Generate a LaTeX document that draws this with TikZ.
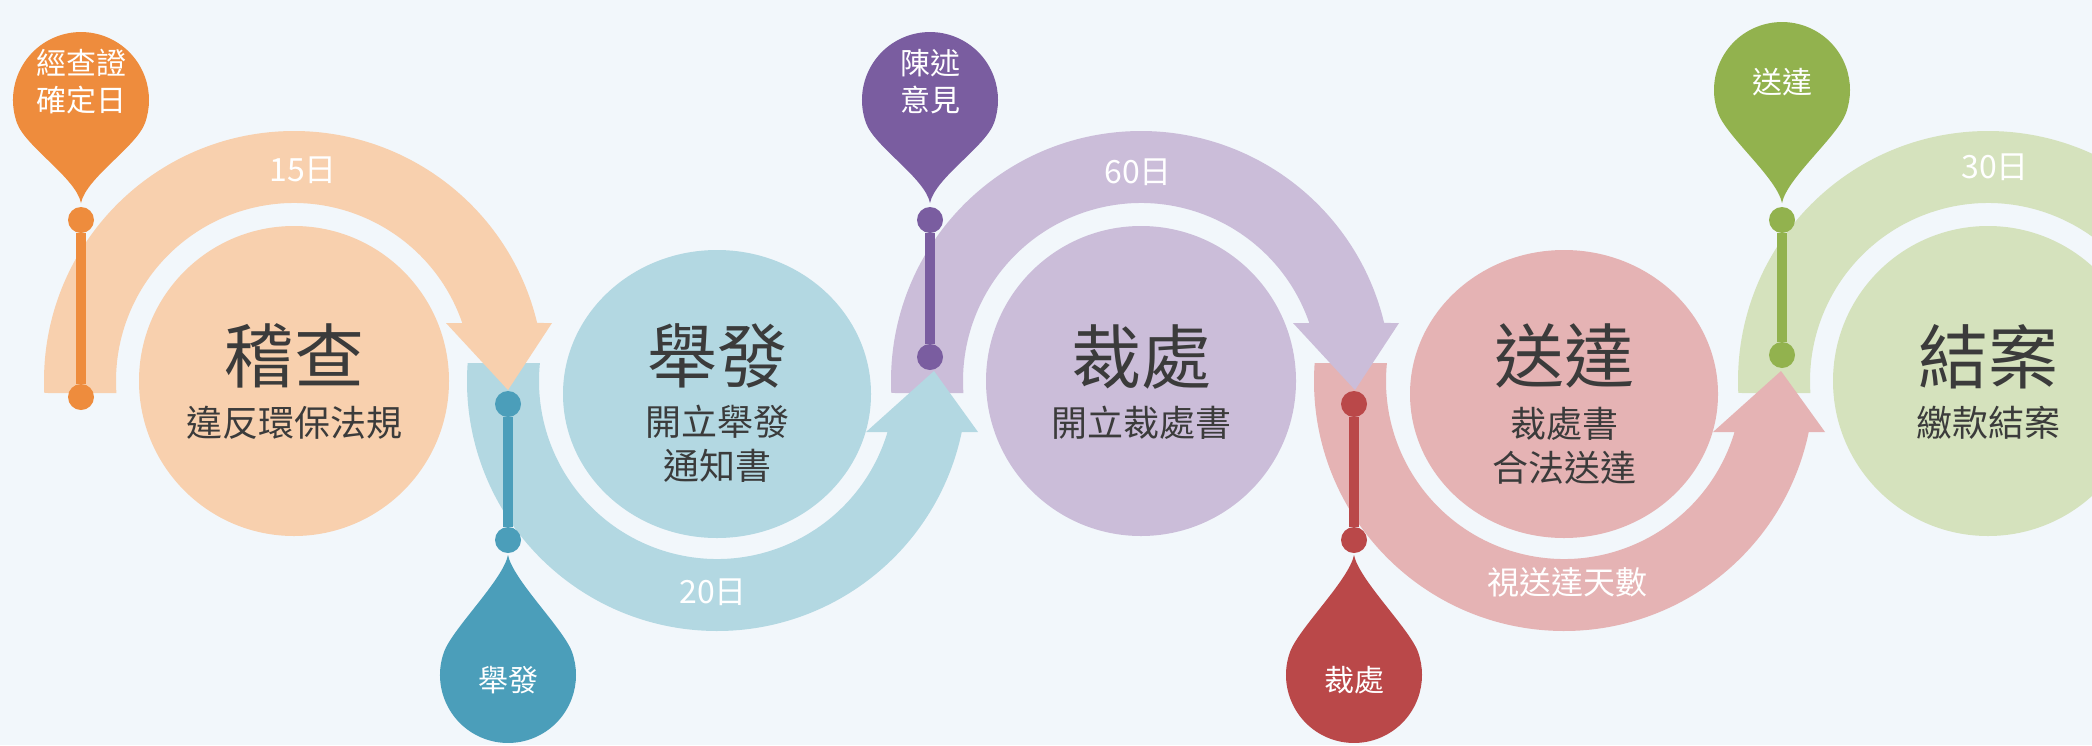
\documentclass[tikz,border=0pt]{standalone}
\usepackage{fontspec}
\newfontfamily\cjk{Noto Sans CJK TC}
\usetikzlibrary{shapes.geometric}
\definecolor{bg}{HTML}{F2F7FB}
\definecolor{lpeach}{HTML}{F8D0AE}
\definecolor{dorange}{HTML}{EE8C3D}
\definecolor{lteal}{HTML}{B3D8E2}
\definecolor{dteal}{HTML}{4B9EBA}
\definecolor{lpurple}{HTML}{CBBDD9}
\definecolor{dpurple}{HTML}{7A5DA0}
\definecolor{lpink}{HTML}{E5B3B4}
\definecolor{dred}{HTML}{BA4849}
\definecolor{lgreen}{HTML}{D5E2BD}
\definecolor{dgreen}{HTML}{92B24E}
\definecolor{txt}{HTML}{3B3B3B}
% top arc: #1 centre x, #2 colour
\newcommand\toparc[2]{%
  \fill[#2] ({#1+250*cos(182.75)},{-381+250*sin(182.75)})
    arc[start angle=182.75,end angle=13.42,radius=250pt]
    -- ({#1+258},-323) -- ({#1+214},-390) -- ({#1+152},-323)
    -- ({#1+178*cos(19.02)},-323)
    arc[start angle=19.02,end angle=183.87,radius=178pt] -- cycle;}
% bottom arc
\newcommand\botarc[2]{%
  \fill[#2] ({#1+250*cos(175.87)},{-381+250*sin(175.87)})
    arc[start angle=175.87,end angle=348.23,radius=250pt]
    -- ({#1+261},-432) -- ({#1+217},-371) -- ({#1+149},-432)
    -- ({#1+178*cos(16.65)},-432)
    arc[start angle=343.35,end angle=174.20,radius=178pt] -- cycle;}
% top pin: #1 name, #2 x, #3 head centre (px), #4 lower dot (px), #5 colour, #6 text
\newcommand\toppin[6]{%
  \fill[#5] (#2,-203) .. controls ({#2-5},-178) and ({#2-55},{-#3-47}) .. ({#2-63.9},{-#3-23.3})
    arc[start angle=200,end angle=-20,radius=68pt]
    .. controls ({#2+55},{-#3-47}) and ({#2+5},-178) .. (#2,-203) -- cycle;
  \node[dot,fill=#5] (#1a) at (#2,-220) {};
  \node[dot,fill=#5] (#1b) at (#2,-#4) {};
  \draw[stem,#5] (#1a) -- (#1b);
  \node[pinlbl] (#1t) at (#2,-82) {#6};}
% bottom pin: #1 name, #2 x, #3 colour, #4 text
\newcommand\botpin[4]{%
  \fill[#3] (#2,-555) .. controls ({#2-5},-580) and ({#2-55},-628) .. ({#2-63.9},-651.7)
    arc[start angle=160,end angle=380,radius=68pt]
    .. controls ({#2+55},-628) and ({#2+5},-580) .. (#2,-555) -- cycle;
  \node[dot,fill=#3] (#1a) at (#2,-404) {};
  \node[dot,fill=#3] (#1b) at (#2,-540) {};
  \draw[stem,#3] (#1a) -- (#1b);
  \node[pinlbl] (#1t) at (#2,-680) {#4};}
\begin{document}
\begin{tikzpicture}[x=1pt,y=1pt,
  title/.style={font=\cjk\fontsize{70}{80}\selectfont,text=txt,inner sep=0pt},
  sub/.style={font=\cjk\fontsize{36}{44}\selectfont,text=txt,inner sep=0pt,align=center},
  daylbl/.style={font=\cjk\fontsize{32}{38}\selectfont,text=white,inner sep=0pt},
  pinlbl/.style={font=\cjk\fontsize{30}{37}\selectfont,text=white,inner sep=0pt,align=center},
  dot/.style={circle,minimum size=26pt,inner sep=0pt},
  stem/.style={line width=10pt},
  rcirc/.style={circle,minimum size=310pt,inner sep=0pt},
  ecirc/.style={ellipse,minimum width=308pt,minimum height=288pt,inner sep=0pt}]
\useasboundingbox (0,0) rectangle (2092,-745);
\fill[bg] (0,0) rectangle (2092,-745);
\clip (0,0) rectangle (2092,-745);
% circles
\node[rcirc,fill=lpeach] (c1) at (294,-381) {};
\node[ecirc,fill=lteal] (c2) at (717,-394) {};
\node[rcirc,fill=lpurple] (c3) at (1141,-381) {};
\node[ecirc,fill=lpink] (c4) at (1564,-394) {};
\node[rcirc,fill=lgreen] (c5) at (1988,-381) {};
% arcs (later ones on top)
\toparc{1988}{lgreen}
\botarc{1564}{lpink}
\toparc{1141}{lpurple}
\botarc{717}{lteal}
\toparc{294}{lpeach}
% arc labels
\node[daylbl] (l1) at (303,-170) {15日};
\node[daylbl] (l2) at (713,-592) {20日};
\node[daylbl] (l3) at (1138,-172) {60日};
\node[daylbl] (l4) at (1567,-582) {視送達天數};
\node[daylbl] (l5) at (1995,-167) {30日};
% titles
\node[title] (t1) at (294,-356) {稽查};
\node[sub] (s1) at (294,-423) {違反環保法規};
\node[title] (t2) at (717,-356) {舉發};
\node[sub] (s2) at (717,-444) {開立舉發\\通知書};
\node[title] (t3) at (1141,-357) {裁處};
\node[sub] (s3) at (1141,-423) {開立裁處書};
\node[title] (t4) at (1564,-356) {送達};
\node[sub] (s4) at (1564,-446) {裁處書\\合法送達};
\node[title] (t5) at (1988,-357) {結案};
\node[sub] (s5) at (1988,-423) {繳款結案};
% pins
\toppin{pa}{81}{100}{397}{dorange}{經查證\\確定日}
\toppin{pc}{930}{100}{357}{dpurple}{陳述\\意見}
\toppin{pe}{1782}{90}{355}{dgreen}{送達}
\botpin{pb}{508}{dteal}{舉發}
\botpin{pd}{1354}{dred}{裁處}
\end{tikzpicture}
\end{document}
